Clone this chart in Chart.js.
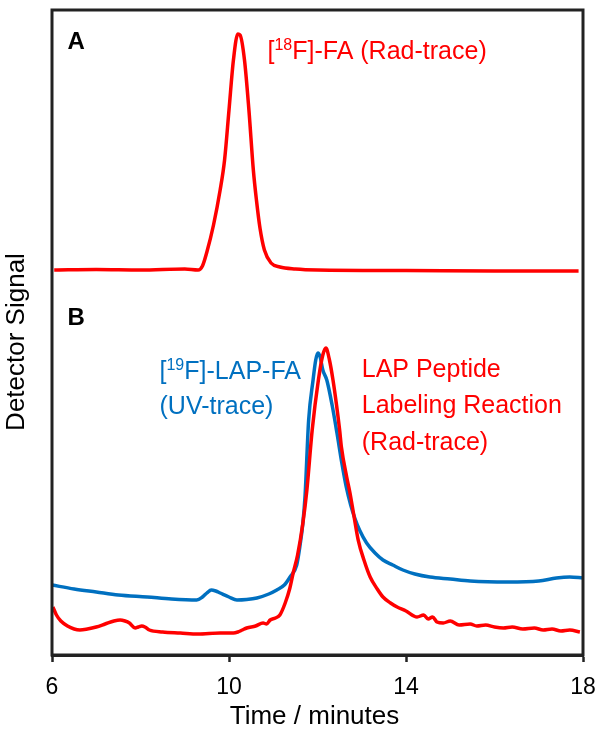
<!DOCTYPE html>
<html lang="en">
<head>
    <meta charset="UTF-8">
    <title>Radio-HPLC traces</title>
    <script src="https://cdn.jsdelivr.net/npm/chart.js"></script>
    <style>
        body {
            margin: 0;
            background-color: white;
        }
        #chart {
            display: block;
        }
    </style>
</head>
<body>
    <canvas id="chart" width="604" height="733"></canvas>

    <script>
        // x axis: retention time (minutes)
        const xTicks = [6, 10, 14, 18];

        // A: [18F]-FA radio trace (signal, arbitrary units incl. offset)
        const radA_t = [6.05, 7.0, 8.0, 9.0, 9.3, 9.4, 9.5, 9.65, 9.8, 9.9, 10.0, 10.1, 10.2, 10.25, 10.35, 10.45, 10.55, 10.62, 10.7, 10.8, 10.95, 11.15, 11.5, 12.0, 14.0, 16.0, 17.9];
        const radA_v = [385, 385.5, 385, 386, 385, 389, 403, 430, 465, 495, 545, 595, 621, 620, 595, 545, 485, 455, 427, 405, 392, 388, 386, 385, 384.5, 384, 384];

        // B: LAP peptide labeling reaction, radio trace
        const radB_t = [6.02, 6.1, 6.2, 6.35, 6.5, 6.63, 6.8, 7.0, 7.2, 7.4, 7.54, 7.65, 7.75, 7.88, 7.95, 8.03, 8.1, 8.2, 8.5, 8.9, 9.3, 9.8, 10.1, 10.2, 10.3, 10.4, 10.6, 10.77, 10.85, 10.93, 11.05, 11.15, 11.27, 11.37, 11.45, 11.55, 11.67, 11.76, 11.88, 12.02, 12.12, 12.19, 12.27, 12.35, 12.43, 12.5, 12.54, 12.66, 12.73, 12.82, 12.92, 13.05, 13.19, 13.35, 13.48, 13.65, 13.8, 14.0, 14.25, 14.4, 14.5, 14.6, 14.7, 14.84, 15.0, 15.2, 15.45, 15.6, 15.8, 16.0, 16.2, 16.4, 16.64, 16.9, 17.1, 17.3, 17.5, 17.7, 17.93];
        const radB_v = [48, 40, 34, 29, 26, 25, 26, 28, 31, 34, 35, 34, 32, 27, 28, 29, 28, 25, 23, 22, 21, 22, 22, 23, 25, 27, 29, 32, 31, 35, 37, 40, 52, 66, 82, 100, 132, 165, 225, 275, 300, 307, 295, 275, 250, 225, 208, 178, 163, 140, 115, 95, 78, 66, 58, 52, 48, 44, 38, 40, 36, 38, 33, 32, 34, 30, 31, 29, 30, 28, 27, 28, 26, 27, 25, 26, 24, 25, 23];

        // B: [19F]-LAP-FA, UV trace
        const uvB_t = [6.0, 6.5, 7.0, 7.5, 8.15, 8.7, 9.27, 9.4, 9.5, 9.6, 9.7, 9.8, 10.0, 10.18, 10.4, 10.63, 10.9, 11.08, 11.25, 11.38, 11.53, 11.6, 11.67, 11.72, 11.8, 11.9, 11.96, 12.01, 12.06, 12.12, 12.21, 12.33, 12.44, 12.55, 12.65, 12.75, 12.85, 12.95, 13.11, 13.3, 13.48, 13.7, 13.93, 14.2, 14.54, 15.0, 15.45, 16.3, 17.0, 17.4, 17.7, 18.0];
        const uvB_v = [70, 66, 63, 60, 58, 56, 55, 58, 62, 65, 64, 62, 58, 55, 55.5, 57, 61, 65, 70, 78, 90, 108, 132, 160, 235, 275, 295, 302, 298, 285, 275, 250, 222, 192, 168, 150, 136, 125, 112, 102, 95, 90, 85, 81, 78, 76, 74, 73, 74, 77, 78, 77];

        const RED = '#ff0000';
        const BLUE = '#0070c0';
        const FONT = '"Liberation Sans", Arial, sans-serif';

        function pts(t, v) {
            return t.map((x, i) => ({ x: x, y: v[i] }));
        }

        function line(label, t, v, color) {
            return {
                label: label,
                data: pts(t, v),
                borderColor: color,
                borderWidth: 3.5,
                pointRadius: 0,
                fill: false,
                cubicInterpolationMode: 'monotone'
            };
        }

        // frame around plot, axis titles, panel labels, trace labels
        const decor = {
            id: 'decor',
            afterDraw(chart) {
                const ctx = chart.ctx;
                const a = chart.chartArea;
                const xs = chart.scales.x;
                const ys = chart.scales.y;
                ctx.save();
                ctx.strokeStyle = '#222';
                ctx.lineWidth = 3;
                ctx.strokeRect(a.left, a.top, a.right - a.left, a.bottom - a.top);

                ctx.textBaseline = 'middle';
                ctx.textAlign = 'left';

                ctx.fillStyle = '#000';
                ctx.font = 'bold 24px ' + FONT;
                ctx.fillText('A', xs.getPixelForValue(6.35), ys.getPixelForValue(613));
                ctx.fillText('B', xs.getPixelForValue(6.35), ys.getPixelForValue(337));

                function sup(pre, s, post, x, y, color) {
                    ctx.fillStyle = color;
                    ctx.font = '25px ' + FONT;
                    ctx.fillText(pre, x, y);
                    x += ctx.measureText(pre).width;
                    ctx.font = '16px ' + FONT;
                    ctx.fillText(s, x, y - 6);
                    x += ctx.measureText(s).width;
                    ctx.font = '25px ' + FONT;
                    ctx.fillText(post, x, y);
                }

                sup('[', '18', 'F]-FA (Rad-trace)', xs.getPixelForValue(10.87), ys.getPixelForValue(603), RED);
                sup('[', '19', 'F]-LAP-FA', xs.getPixelForValue(8.43), ys.getPixelForValue(283), BLUE);
                ctx.font = '25px ' + FONT;
                ctx.fillText('(UV-trace)', xs.getPixelForValue(8.43), ys.getPixelForValue(248));

                ctx.fillStyle = RED;
                const lx = xs.getPixelForValue(13.0);
                ctx.fillText('LAP Peptide', lx, ys.getPixelForValue(285));
                ctx.fillText('Labeling Reaction', lx, ys.getPixelForValue(249));
                ctx.fillText('(Rad-trace)', lx, ys.getPixelForValue(212));

                // x axis title
                ctx.fillStyle = '#000';
                ctx.font = '26px ' + FONT;
                ctx.textAlign = 'center';
                ctx.fillText('Time / minutes', (a.left + a.right) / 2 - 3, 717);

                // y axis title
                ctx.translate(17, 342);
                ctx.rotate(-Math.PI / 2);
                ctx.fillText('Detector Signal', 0, 0);
                ctx.restore();
            }
        };

        new Chart(document.getElementById('chart'), {
            type: 'line',
            data: {
                datasets: [
                    line('[18F]-FA (Rad-trace)', radA_t, radA_v, RED),
                    line('LAP Peptide Labeling Reaction (Rad-trace)', radB_t, radB_v, RED),
                    line('[19F]-LAP-FA (UV-trace)', uvB_t, uvB_v, BLUE)
                ]
            },
            options: {
                responsive: false,
                animation: false,
                layout: {
                    padding: { left: 52, right: 21, top: 10, bottom: 19 }
                },
                plugins: {
                    legend: { display: false },
                    tooltip: { enabled: false }
                },
                scales: {
                    x: {
                        type: 'linear',
                        min: 6,
                        max: 18,
                        afterBuildTicks(axis) {
                            axis.ticks = xTicks.map(v => ({ value: v }));
                        },
                        grid: {
                            drawOnChartArea: false,
                            drawTicks: true,
                            tickLength: 7,
                            tickWidth: 2.5,
                            tickColor: '#222'
                        },
                        border: { color: '#222', width: 3 },
                        ticks: {
                            color: '#000',
                            padding: 4,
                            maxRotation: 0,
                            font: { family: FONT, size: 23, lineHeight: 1.913 }
                        },
                        title: { display: false }
                    },
                    y: {
                        display: false,
                        min: 0,
                        max: 645
                    }
                }
            },
            plugins: [decor]
        });
    </script>
</body>
</html>
